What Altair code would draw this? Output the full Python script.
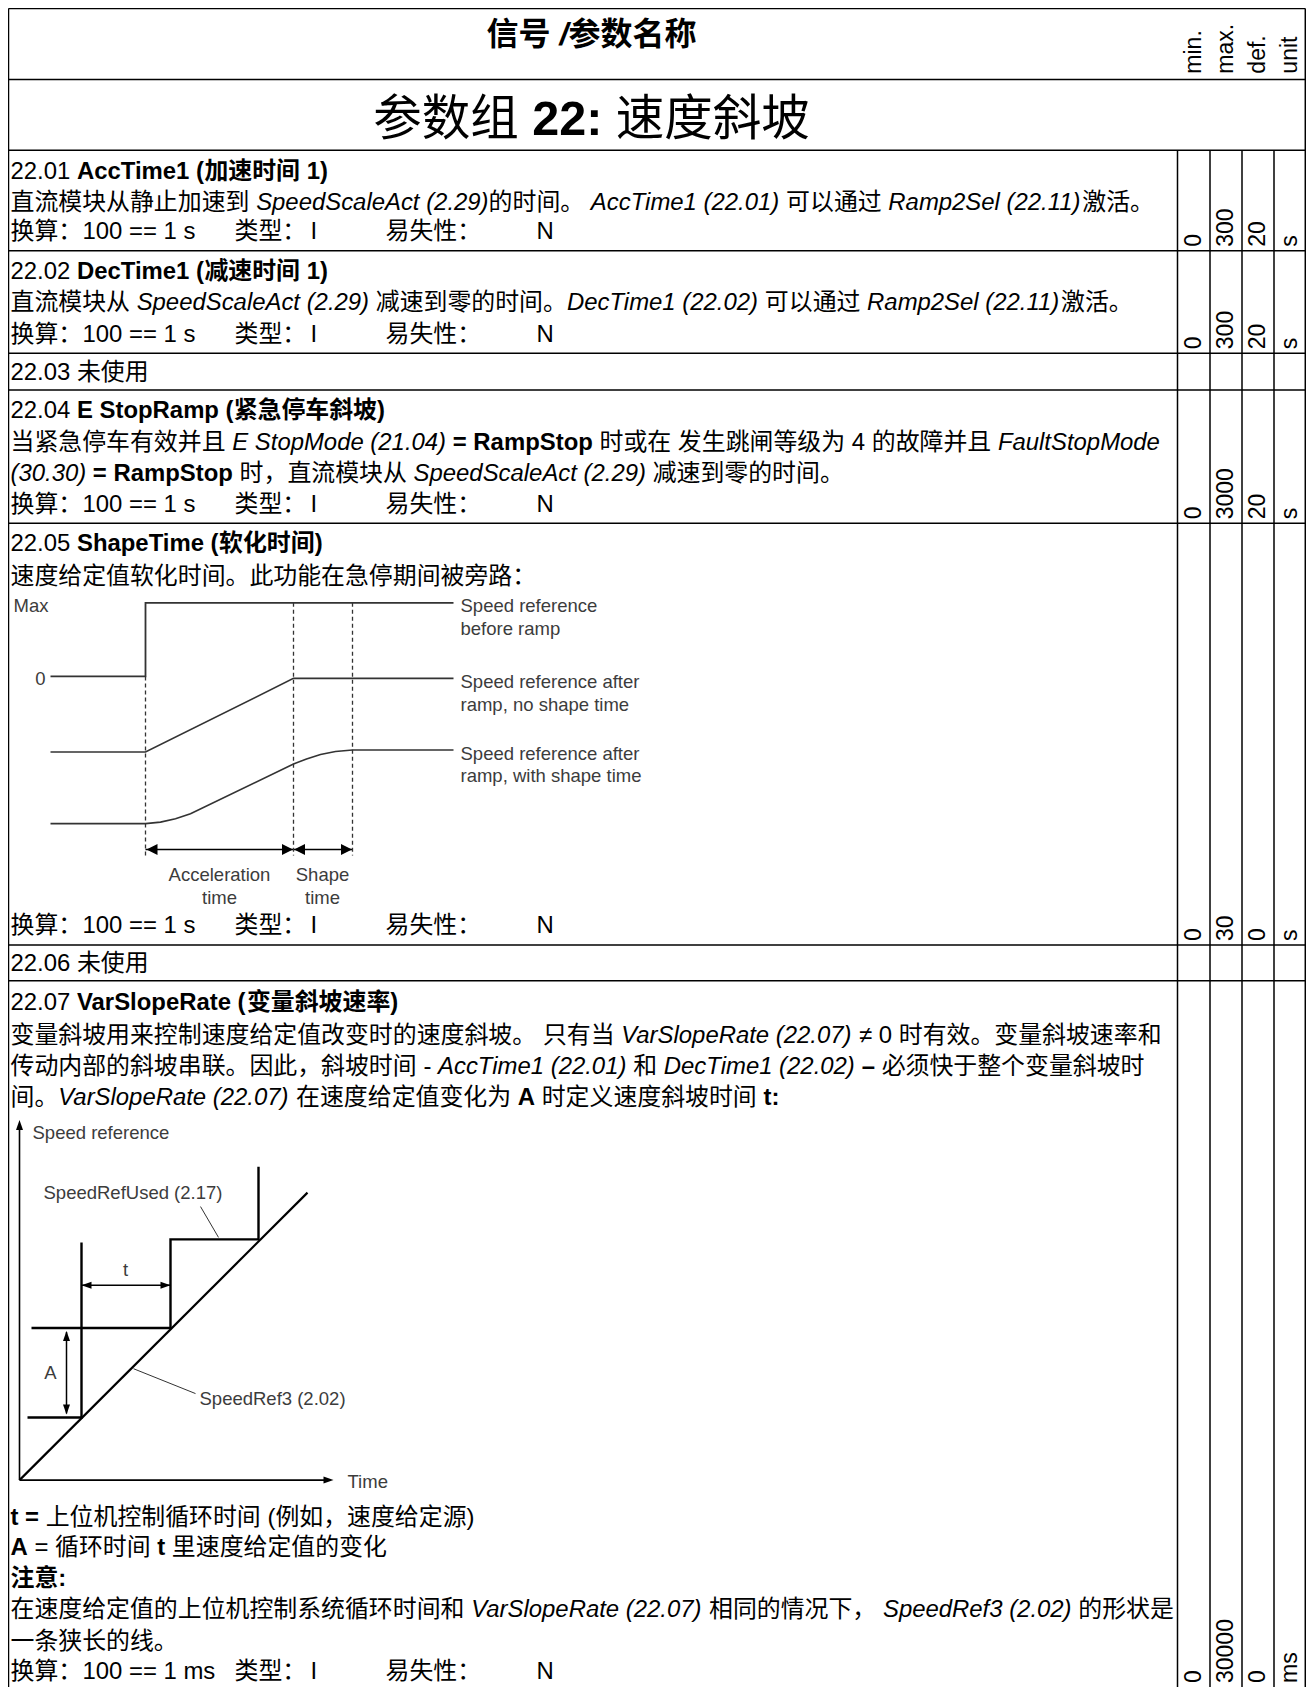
import altair as alt
import pandas as pd

# ============================================================ content
HEADER_RUNS = [("信号 ", "b"), ("/", "bi"), ("参数名称", "b")]
TITLE_RUNS = [("参数组 ", "n"), ("22:", "b"), (" 速度斜坡", "n")]
COLUMN_HEADS = ["min.", "max.", "def.", "unit"]

CONV_S = ["换算：", "100 == 1 s", "类型：", "I", "易失性：", "N"]
CONV_MS = ["换算：", "100 == 1 ms", "类型：", "I", "易失性：", "N"]

R2201_LINES = [
    [("22.01 ", "n"), ("AccTime1 (加速时间 1)", "b")],
    [("直流模块从静止加速到 ", "n"), ("SpeedScaleAct (2.29)", "i"), ("的时间。 ", "n"),
     ("AccTime1 (22.01)", "i"), (" 可以通过 ", "n"), ("Ramp2Sel (22.11)", "i"), ("激活。", "n")],
]
R2201_VALUES = ["0", "300", "20", "s"]

R2202_LINES = [
    [("22.02 ", "n"), ("DecTime1 (减速时间 1)", "b")],
    [("直流模块从 ", "n"), ("SpeedScaleAct (2.29)", "i"), (" 减速到零的时间。", "n"),
     ("DecTime1 (22.02)", "i"), (" 可以通过 ", "n"), ("Ramp2Sel (22.11)", "i"), ("激活。", "n")],
]
R2202_VALUES = ["0", "300", "20", "s"]

R2203_LINES = [[("22.03 未使用", "n")]]

R2204_LINES = [
    [("22.04 ", "n"), ("E StopRamp (紧急停车斜坡)", "b")],
    [("当紧急停车有效并且 ", "n"), ("E StopMode (21.04)", "i"), (" = RampStop", "b"),
     (" 时或在 发生跳闸等级为 4 的故障并且 ", "n"), ("FaultStopMode", "i")],
    [("(30.30)", "i"), (" = RampStop", "b"), (" 时，直流模块从 ", "n"),
     ("SpeedScaleAct (2.29)", "i"), (" 减速到零的时间。", "n")],
]
R2204_VALUES = ["0", "3000", "20", "s"]

R2205_LINES = [
    [("22.05 ", "n"), ("ShapeTime (软化时间)", "b")],
    [("速度给定值软化时间。此功能在急停期间被旁路：", "n")],
]
R2205_VALUES = ["0", "30", "0", "s"]

R2206_LINES = [[("22.06 未使用", "n")]]

R2207_LINES = [
    [("22.07 ", "n"), ("VarSlopeRate (变量斜坡速率)", "b")],
    [("变量斜坡用来控制速度给定值改变时的速度斜坡。 只有当 ", "n"), ("VarSlopeRate (22.07)", "i"),
     (" ≠ 0 时有效。变量斜坡速率和", "n")],
    [("传动内部的斜坡串联。因此，斜坡时间 - ", "n"), ("AccTime1 (22.01)", "i"), (" 和 ", "n"),
     ("DecTime1 (22.02)", "i"), (" – ", "b"), ("必须快于整个变量斜坡时", "n")],
    [("间。", "n"), ("VarSlopeRate (22.07)", "i"), (" 在速度给定值变化为 ", "n"), ("A", "b"),
     (" 时定义速度斜坡时间 ", "n"), ("t:", "b")],
    [("t = ", "b"), ("上位机控制循环时间 (例如，速度给定源)", "n")],
    [("A", "b"), (" = 循环时间 ", "n"), ("t", "b"), (" 里速度给定值的变化", "n")],
    [("注意:", "b")],
    [("在速度给定值的上位机控制系统循环时间和 ", "n"), ("VarSlopeRate (22.07)", "i"),
     (" 相同的情况下， ", "n"), ("SpeedRef3 (2.02)", "i"), (" 的形状是", "n")],
    [("一条狭长的线。", "n")],
]
R2207_VALUES = ["0", "30000", "0", "ms"]

# ---- diagram 1 (shape time); u = time to the right, v = downward from the "Max" level
D1_BEFORE_U = [0, 95, 95, 403]
D1_BEFORE_V = [74, 74, 0, 0]
D1_NOSHAPE_U = [0, 95, 243, 403]
D1_NOSHAPE_V = [150, 150, 76, 76]
D1_SHAPE_U = [0, 95, 110, 125, 140, 243, 256, 270, 285, 302, 403]
D1_SHAPE_V = [222, 222, 220.5, 217, 212, 162, 157, 152.5, 149.5, 148, 148]
D1_MARK_U = [95, 243, 302]
D1_MARK_TOP_V = [74, 0, 0]
D1_LEGEND = ["Speed reference", "before ramp", "Speed reference after", "ramp, no shape time",
             "Speed reference after", "ramp, with shape time"]
D1_LEVEL_LABELS = ["Max", "0"]
D1_SPAN_LABELS = [["Acceleration", "time"], ["Shape", "time"]]

# ---- diagram 2 (variable slope); u = time, v = speed (upward)
D2_RAMP_U = [0, 288]
D2_RAMP_V = [0, 289]
D2_STEP1_U = [8, 62, 62]
D2_STEP1_V = [63, 63, 239]
D2_STEP2_U = [12, 151, 151, 239, 239]
D2_STEP2_V = [153, 153, 242, 242, 315]
D2_LABELS = ["Speed reference", "Time", "SpeedRefUsed (2.17)", "SpeedRef3 (2.02)", "t", "A"]

# ============================================================ layout
FONT = "Liberation Sans, Arial, Noto Sans CJK SC, sans-serif"
FS = 23.9
FS_DIAG = 18.5
FS_ROT = 23
BLACK = "#000000"
GREY_TXT = "#3c3c3c"
GREY_LN = "#333333"

T_L, T_R, T_T, T_B = 5.0, 1301.8, 7.5, 1695.0
HEAD_B, TITLE_B = 79.0, 150.0
COL_X = [1174.0, 1206.5, 1238.5, 1270.5, 1301.8]
TEXT_X = 7.0
TAB_STOPS = [7.0, 79.0, 231.0, 307.0, 382.0, 533.0]
CENTER_X = 588.0

ROWS = [
    dict(lines=R2201_LINES, mids=[170, 201], conv=CONV_S, conv_mid=231, values=R2201_VALUES, bottom=251),
    dict(lines=R2202_LINES, mids=[271, 302.5], conv=CONV_S, conv_mid=334, values=R2202_VALUES, bottom=354),
    dict(lines=R2203_LINES, mids=[372.5], conv=None, conv_mid=None, values=None, bottom=391),
    dict(lines=R2204_LINES, mids=[410.5, 443, 474], conv=CONV_S, conv_mid=505, values=R2204_VALUES, bottom=525),
    dict(lines=R2205_LINES, mids=[544.5, 577], conv=CONV_S, conv_mid=928, values=R2205_VALUES, bottom=949),
    dict(lines=R2206_LINES, mids=[966.5], conv=None, conv_mid=None, values=None, bottom=985),
    dict(lines=R2207_LINES, mids=[1006, 1038.5, 1070, 1101, 1523.5, 1554, 1585, 1616.5, 1648],
         conv=CONV_MS, conv_mid=1678, values=R2207_VALUES, bottom=1695),
]

D1 = (47.0, 605.0)
D2 = (16.0, 1487.0)

# Arial / Helvetica advance widths (1/1000 em), ASCII 32..126
W_REG = ([278, 278, 355, 556, 556, 889, 667, 191, 333, 333, 389, 584, 278, 333, 278, 278] + [556] * 10 +
         [278, 278, 584, 584, 584, 556, 1015] +
         [667, 667, 722, 722, 667, 611, 778, 722, 278, 500, 667, 556, 833, 722, 778, 667, 778, 722, 667,
          611, 722, 667, 944, 667, 667, 611] + [278, 278, 278, 469, 556, 333] +
         [556, 556, 500, 556, 556, 278, 556, 556, 222, 222, 500, 222, 833, 556, 556, 556, 556, 333, 500,
          278, 556, 500, 722, 500, 500, 500] + [334, 260, 334, 584])
W_BOLD = ([278, 333, 474, 556, 556, 889, 722, 238, 333, 333, 389, 584, 278, 333, 278, 278] + [556] * 10 +
          [333, 333, 584, 584, 584, 611, 975] +
          [722, 722, 722, 722, 667, 611, 778, 722, 278, 556, 722, 611, 833, 722, 778, 667, 778, 722, 667,
           611, 722, 667, 944, 667, 667, 611] + [333, 278, 333, 584, 556, 333] +
          [556, 611, 556, 611, 556, 333, 611, 611, 278, 278, 556, 278, 889, 611, 611, 611, 611, 389, 556,
           333, 611, 556, 778, 556, 556, 500] + [389, 280, 389, 584])


def glyph_w(ch, bold):
    o = ord(ch)
    if 32 <= o <= 126:
        return (W_BOLD if bold else W_REG)[o - 32] / 1000.0
    if ch == "≠":
        return 0.548
    if ch == "–":
        return 0.556
    return 1.0


def is_cjk(ch):
    return ord(ch) >= 0x2E80


def split_script(text):
    segs = []
    for ch in text:
        c = is_cjk(ch)
        if segs and segs[-1][1] == c:
            segs[-1][0] += ch
        else:
            segs.append([ch, c])
    return segs


TEXT_ROWS = []


def place(runs, x, y_mid, fs, color, center=False, angle=0, base="alphabetic"):
    pieces = []
    for txt, st in runs:
        bold = "b" in st
        ital = "i" in st
        for seg, _c in split_script(txt):
            w = sum(glyph_w(c, bold) for c in seg) * fs
            lead = len(seg) - len(seg.lstrip(" "))
            pieces.append((seg.strip(" "), w, lead * glyph_w(" ", bold) * fs, bold, ital))
    total = sum(p[1] for p in pieces)
    cur = x - total / 2.0 if center else x
    y = y_mid + 0.36 * fs if base == "alphabetic" else y_mid
    for s, w, lw, b, i in pieces:
        if s:
            TEXT_ROWS.append(dict(x=cur + lw, y=y, text=s, size=fs, color=color,
                                  weight="bold" if b else "normal", fstyle="italic" if i else "normal",
                                  angle=angle, base=base))
        cur += w


LINES = []   # polylines: id, ord, x, y, sw, color
DASHED = []
ARROWS = []  # x, y, shape, size
_lid = [0]


def poly(xs, ys, sw, color, target=None):
    target = LINES if target is None else target
    _lid[0] += 1
    for k, (a, b) in enumerate(zip(xs, ys)):
        target.append(dict(id=_lid[0], ord=k, x=a, y=b, sw=sw, color=color))


RULES = []


def rule(x1, y1, x2, y2, sw=1.5):
    RULES.append(dict(x=x1, y=y1, x2=x2, y2=y2, sw=sw, color=BLACK))


# ---- table frame
rule(T_L, T_T, T_R, T_T)
rule(T_L, T_T, T_L, T_B)
rule(T_R, T_T, T_R, T_B)
rule(T_L, HEAD_B, T_R, HEAD_B)
rule(T_L, TITLE_B, T_R, TITLE_B)
for r in ROWS[:-1]:
    rule(T_L, r["bottom"], T_R, r["bottom"])
for cx in COL_X[:-1]:
    rule(cx, TITLE_B, cx, T_B)

COL_C = [(COL_X[k] + COL_X[k + 1]) / 2.0 for k in range(4)]

# ---- header and title
place(HEADER_RUNS, CENTER_X, 33, 32, BLACK, center=True)
place(TITLE_RUNS, CENTER_X, 117, 48.5, BLACK, center=True)
for k, h in enumerate(COLUMN_HEADS):
    place([(h, "n")], COL_C[k], HEAD_B - 6, FS_ROT, BLACK, angle=270, base="middle")

# ---- rows
for r in ROWS:
    for runs, ym in zip(r["lines"], r["mids"]):
        place(runs, TEXT_X, ym, FS, BLACK)
    if r["conv"]:
        for k, lab in enumerate(r["conv"]):
            place([(lab, "n")], TAB_STOPS[k], r["conv_mid"], FS, BLACK)
    if r["values"]:
        for k, v in enumerate(r["values"]):
            place([(v, "n")], COL_C[k], r["bottom"] - 4, FS_ROT, BLACK, angle=270, base="middle")

# ---- diagram 1
def d1(u, v):
    return D1[0] + u, D1[1] + v


def d1poly(us, vs, sw, color, target=None):
    pts = [d1(a, b) for a, b in zip(us, vs)]
    poly([p[0] for p in pts], [p[1] for p in pts], sw, color, target)


d1poly(D1_BEFORE_U, D1_BEFORE_V, 1.8, GREY_LN)
d1poly(D1_NOSHAPE_U, D1_NOSHAPE_V, 1.6, GREY_LN)
d1poly(D1_SHAPE_U, D1_SHAPE_V, 1.6, GREY_LN)
for u, vt in zip(D1_MARK_U, D1_MARK_TOP_V):
    d1poly([u, u], [vt, 254], 1.3, GREY_LN, DASHED)
d1poly([D1_MARK_U[0], D1_MARK_U[2]], [248, 248], 1.5, BLACK)
LEFT1 = "M0,0L1,-0.5L1,0.5Z"
RIGHT1 = "M0,0L-1,-0.5L-1,0.5Z"
for u, shp in [(D1_MARK_U[0] + 1, LEFT1), (D1_MARK_U[1] - 0.5, RIGHT1),
               (D1_MARK_U[1] + 0.5, LEFT1), (D1_MARK_U[2] - 0.5, RIGHT1)]:
    x, y = d1(u, 248)
    ARROWS.append(dict(x=x, y=y, shape=shp, size=484))

x, y = d1(-37, 3)
place([(D1_LEVEL_LABELS[0], "n")], x, y, FS_DIAG, GREY_TXT)
x, y = d1(-10, 76)
place([(D1_LEVEL_LABELS[1], "n")], x, y, FS_DIAG, GREY_TXT, center=True)
for lab, v in zip(D1_LEGEND, [3, 26, 79, 102, 151, 173]):
    x, y = d1(410, v)
    place([(lab, "n")], x, y, FS_DIAG, GREY_TXT)
for labs, u in zip(D1_SPAN_LABELS, [169, 272]):
    for lab, v in zip(labs, [273, 296]):
        x, y = d1(u, v)
        place([(lab, "n")], x, y, FS_DIAG, GREY_TXT, center=True)

# ---- diagram 2
def d2(u, v):
    return D2[0] + u, D2[1] - v


def d2poly(us, vs, sw, color):
    pts = [d2(a, b) for a, b in zip(us, vs)]
    poly([p[0] for p in pts], [p[1] for p in pts], sw, color)


d2poly([0, 0], [0, 356], 1.6, BLACK)
d2poly([0, 308], [0, 0], 1.6, BLACK)
d2poly(D2_RAMP_U, D2_RAMP_V, 2.2, BLACK)
d2poly(D2_STEP1_U, D2_STEP1_V, 2.4, BLACK)
d2poly(D2_STEP2_U, D2_STEP2_V, 2.4, BLACK)
d2poly([62, 151], [196, 196], 1.5, BLACK)
d2poly([47, 47], [67, 149], 1.5, BLACK)
d2poly([181, 199], [275, 244], 1.0, GREY_LN)
d2poly([114, 176], [112, 87], 1.0, GREY_LN)
LEFT2 = "M0,0L1,-0.35L1,0.35Z"
RIGHT2 = "M0,0L-1,-0.35L-1,0.35Z"
UP2 = "M0,0L-0.35,1L0.35,1Z"
DOWN2 = "M0,0L-0.35,-1L0.35,-1Z"
for u, v, shp in [(0, 362, UP2), (314, 0, RIGHT2), (62, 196, LEFT2), (151, 196, RIGHT2),
                  (47, 150, UP2), (47, 66, DOWN2)]:
    x, y = d2(u, v)
    ARROWS.append(dict(x=x, y=y, shape=shp, size=400))

for lab, (u, v, c) in zip(D2_LABELS, [(13, 350, False), (328, -1, False), (24, 289, False),
                                      (180, 82, False), (106, 212, True), (31, 108, True)]):
    x, y = d2(u, v)
    place([(lab, "n")], x, y, FS_DIAG, GREY_TXT, center=c)

# ============================================================ chart
XS = alt.Scale(domain=[4.5, 1302.5], nice=False, zero=False)
YS = alt.Scale(domain=[7.0, 1695.0], reverse=True, nice=False, zero=False)


def xy():
    return dict(x=alt.X("x:Q", scale=XS, axis=None), y=alt.Y("y:Q", scale=YS, axis=None))


layers = []
rules_df = pd.DataFrame(RULES)
layers.append(alt.Chart(rules_df).mark_rule().encode(
    **xy(), x2="x2:Q", y2="y2:Q",
    strokeWidth=alt.StrokeWidth("sw:Q", scale=None),
    color=alt.Color("color:N", scale=None)))

lines_df = pd.DataFrame(LINES)
layers.append(alt.Chart(lines_df).mark_line(strokeJoin="miter", strokeCap="butt").encode(
    **xy(), detail="id:N", order="ord:Q",
    strokeWidth=alt.StrokeWidth("sw:Q", scale=None),
    color=alt.Color("color:N", scale=None)))

dash_df = pd.DataFrame(DASHED)
layers.append(alt.Chart(dash_df).mark_line(strokeDash=[4, 3]).encode(
    **xy(), detail="id:N", order="ord:Q",
    strokeWidth=alt.StrokeWidth("sw:Q", scale=None),
    color=alt.Color("color:N", scale=None)))

arr_df = pd.DataFrame(ARROWS)
layers.append(alt.Chart(arr_df).mark_point(filled=True, opacity=1, strokeWidth=0, color=BLACK).encode(
    **xy(), shape=alt.Shape("shape:N", scale=None), size=alt.Size("size:Q", scale=None)))

tdf = pd.DataFrame(TEXT_ROWS)
for (wt, st, bl), g in tdf.groupby(["weight", "fstyle", "base"]):
    g = g.reset_index(drop=True)
    layers.append(alt.Chart(g).mark_text(font=FONT, fontWeight=wt, fontStyle=st, baseline=bl,
                                         align="left").encode(
        **xy(), text="text:N",
        size=alt.Size("size:Q", scale=None),
        color=alt.Color("color:N", scale=None),
        angle=alt.Angle("angle:Q", scale=None)))

chart = alt.layer(*layers).properties(
    width=1298, height=1679, padding=0, autosize=alt.AutoSizeParams(type="none"),
    background="white",
).configure_view(stroke=None)

chart.save("out.html", embed_options={"renderer": "svg", "actions": False})
